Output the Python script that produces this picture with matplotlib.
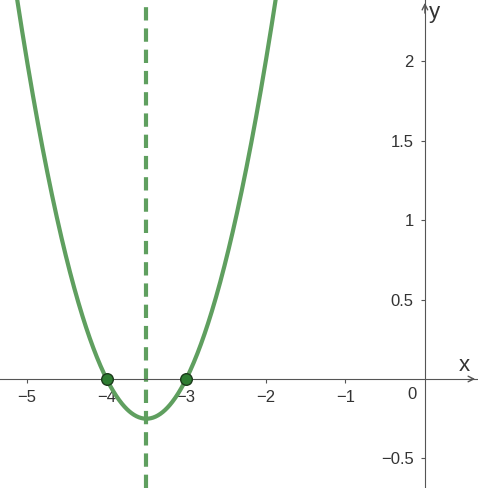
import numpy as np
import matplotlib.pyplot as plt

plt.rcParams['font.family'] = ['Liberation Sans', 'DejaVu Sans']

# parabola y = (x + 4)(x + 3), roots and axis of symmetry
roots = [-4, -3]
axis_x = -3.5
x_ticks = [-5, -4, -3, -2, -1]
x_labels = ['\u22125', '\u22124', '\u22123', '\u22122', '\u22121']
y_ticks = [-0.5, 0.5, 1, 1.5, 2]
y_labels = ['\u22120.5', '0.5', '1', '1.5', '2']

xmin, xmax = -5.34, 0.667
ymin, ymax = -0.686, 2.385

curve_col = '#5f9f5f'
axis_col = '#555555'
text_col = '#333333'

fig = plt.figure(figsize=(4.78, 4.88), dpi=100)
ax = fig.add_axes([0, 0, 1, 1])
ax.set_xlim(xmin, xmax)
ax.set_ylim(ymin, ymax)

xs = np.linspace(xmin, xmax, 800)
ys = (xs - roots[0]) * (xs - roots[1])
ax.plot(xs, ys, color=curve_col, lw=3, solid_capstyle='round', zorder=3)
ax.axvline(axis_x, color=curve_col, lw=3, ls=(0, (3.2, 1.9)), zorder=2)
ax.scatter(roots, [0, 0], s=70, color='#2e7d32', edgecolor='#1b3a1b', lw=1, zorder=4)

# axes through the origin
for s in ['top', 'right']:
    ax.spines[s].set_visible(False)
ax.spines['left'].set_position(('data', 0))
ax.spines['bottom'].set_position(('data', 0))
ax.spines['left'].set_color(axis_col)
ax.spines['bottom'].set_color(axis_col)
ax.annotate('', xy=(xmax, 0), xytext=(xmax - 0.12, 0),
            arrowprops=dict(arrowstyle='->', color=axis_col, lw=1))
ax.annotate('', xy=(0, ymax), xytext=(0, ymax - 0.1),
            arrowprops=dict(arrowstyle='->', color=axis_col, lw=1))

ax.set_xticks(x_ticks)
ax.set_xticklabels(x_labels)
ax.set_yticks(y_ticks)
ax.set_yticklabels(y_labels)
ax.tick_params(axis='both', direction='out', length=3, color=axis_col,
               labelsize=12, labelcolor=text_col, pad=5)
ax.text(-0.1, -0.05, '0', ha='right', va='top', fontsize=12, color=text_col)
ax.text(0.57, 0.02, 'x', ha='right', va='bottom', fontsize=16, color=text_col)
ax.text(0.05, ymax - 0.01, 'y', ha='left', va='top', fontsize=16, color=text_col)

plt.savefig('out.png', dpi=100)
plt.close()
